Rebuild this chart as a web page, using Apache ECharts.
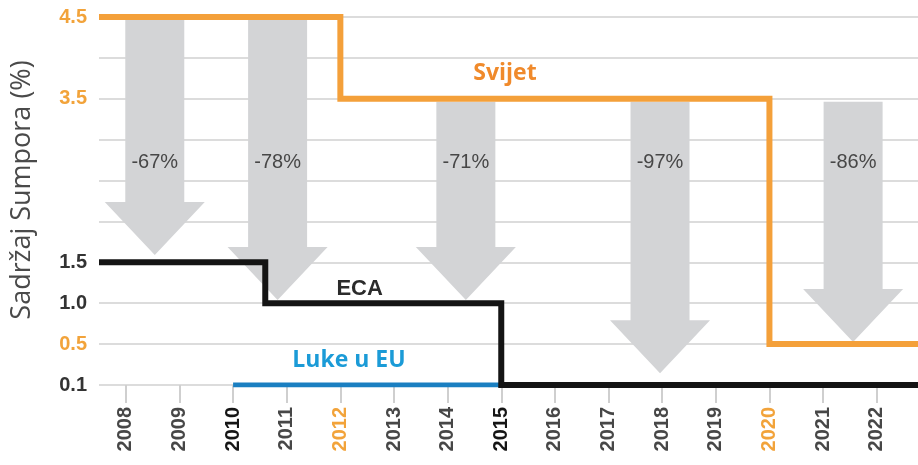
<!DOCTYPE html>
<html>
<head>
<meta charset="utf-8">
<script src="https://cdn.jsdelivr.net/npm/echarts@6/dist/echarts.min.js"></script>
<style>
  html, body { margin: 0; padding: 0; background: #fff; }
  #chart { width: 918px; height: 465px; }
</style>
</head>
<body>
<div id="chart"></div>
<script>
// y levels (evenly spaced rows), only some of them get a label
var yLevels = ['0.1', '0.5', '1.0', '1.5', '2.0', '2.5', '3.0', '3.5', '4.0', '4.5'];
var yShown = ['0.1', '0.5', '1.0', '1.5', '3.5', '4.5'];
var yOrange = ['0.5', '3.5', '4.5'];

var years = [2008, 2009, 2010, 2011, 2012, 2013, 2014, 2015, 2016, 2017, 2018, 2019, 2020, 2021, 2022];
var yearsOrange = [2012, 2020];
var yearsDark = [2010, 2015];

// step lines: value holds from each x until the next one
var svijetX = [2007.5, 2012, 2020, 2022.77];
var svijetY = ['4.5', '3.5', '0.5', '0.5'];
var ecaX = [2007.5, 2010.6, 2015, 2022.77];
var ecaY = ['1.5', '1.0', '0.1', '0.1'];
var lukeX = [2010, 2015];
var lukeY = ['0.1', '0.1'];

// reduction arrows
var arrowX = [2008.54, 2010.83, 2014.34, 2017.96, 2021.56];
var arrowFrom = ['4.5', '4.5', '3.5', '3.5', '3.5'];
var arrowTo = [3.18, 2.08, 2.08, 0.29, 1.05];
var arrowText = ['-67%', '-78%', '-71%', '-97%', '-86%'];

// series names written on the chart
var nameText = ['Svijet', 'ECA', 'Luke u EU'];
var nameX = [2015.07, 2012.36, 2012.16];
var nameLevel = [7.63, 2.35, 0.61];

function zip(xs, ys) {
  return xs.map(function (x, i) { return [x, ys[i]]; });
}

var chart = echarts.init(document.getElementById('chart'));

var arrowData = arrowX.map(function (x, i) {
  return [x, yLevels.indexOf(arrowFrom[i]), arrowTo[i], arrowText[i]];
});
var nameData = nameX.map(function (x, i) {
  return [x, nameLevel[i], nameText[i]];
});
var nameStyles = {
  'Svijet': { fill: '#f08a2b', font: 'bold 23px "Open Sans"' },
  'ECA': { fill: '#2b2b2b', font: 'bold 22px "Liberation Sans"' },
  'Luke u EU': { fill: '#1b9bd7', font: 'bold 23px "Open Sans"' }
};

chart.setOption({
  animation: false,
  backgroundColor: '#fff',
  grid: { left: 99, right: 0, top: 17, bottom: 80, containLabel: false, outerBoundsMode: 'none' },
  xAxis: {
    type: 'value',
    min: 2007.5,
    max: 2022.77,
    splitLine: { show: false },
    axisLine: { show: false },
    axisTick: {
      show: true,
      customValues: years,
      length: 18,
      lineStyle: { color: '#cfcfcf', width: 2 }
    },
    axisLabel: {
      customValues: years,
      rotate: 90,
      margin: 22,
      fontSize: 20,
      fontWeight: 'bold',
      fontFamily: 'Liberation Sans',
      formatter: function (v) { return String(v); },
      color: function (v) {
        v = Number(v);
        if (yearsOrange.indexOf(v) >= 0) return '#f2a33a';
        if (yearsDark.indexOf(v) >= 0) return '#151515';
        return '#474747';
      }
    }
  },
  yAxis: [
    {
      type: 'category',
      data: yLevels,
      boundaryGap: false,
      axisLine: { show: false },
      axisTick: { show: false },
      splitLine: { show: true, lineStyle: { color: '#dcdcdc', width: 2 } },
      axisLabel: {
        margin: 12,
        fontSize: 20,
        fontWeight: 'bold',
        fontFamily: 'Liberation Sans',
        formatter: function (v) { return yShown.indexOf(v) >= 0 ? v : ''; },
        color: function (v) { return yOrange.indexOf(v) >= 0 ? '#f2a33a' : '#333'; }
      },
      name: 'Sadržaj Sumpora (%)',
      nameLocation: 'middle',
      nameRotate: 90,
      nameGap: 63,
      nameTextStyle: {
        fontSize: 27,
        fontFamily: 'Open Sans',
        color: '#4a4a4a',
        padding: [0, 0, 0, 22]
      }
    },
    {
      type: 'value',
      min: 0,
      max: 9,
      show: false
    }
  ],
  series: [
    {
      type: 'custom',
      yAxisIndex: 1,
      z: 1,
      silent: true,
      data: arrowData,
      renderItem: function (params, api) {
        var top = api.coord([api.value(0), api.value(1)]);
        var tip = api.coord([api.value(0), api.value(2)]);
        var mid = api.coord([api.value(0), 5.45]);
        var x = top[0], yTop = top[1] + 3, yTip = tip[1];
        var sw = 29.5, hw = 50, hh = 53, yHead = yTip - hh;
        return {
          type: 'group',
          children: [
            {
              type: 'polygon',
              shape: {
                points: [
                  [x - sw, yTop], [x + sw, yTop], [x + sw, yHead], [x + hw, yHead],
                  [x, yTip], [x - hw, yHead], [x - sw, yHead]
                ]
              },
              style: { fill: '#d3d4d6' }
            },
            {
              type: 'text',
              x: x,
              y: mid[1],
              style: {
                text: api.value(3),
                fill: '#474747',
                font: '20px "Liberation Sans"',
                align: 'center',
                verticalAlign: 'middle'
              }
            }
          ]
        };
      }
    },
    {
      type: 'line',
      name: 'Luke u EU',
      step: 'start',
      symbol: 'none',
      z: 3,
      data: zip(lukeX, lukeY),
      lineStyle: { color: '#1a7fc1', width: 5, join: 'miter', cap: 'butt' }
    },
    {
      type: 'line',
      name: 'Svijet',
      step: 'start',
      symbol: 'none',
      z: 4,
      data: zip(svijetX, svijetY),
      lineStyle: { color: '#f4a03a', width: 6, join: 'miter', cap: 'butt' }
    },
    {
      type: 'line',
      name: 'ECA',
      step: 'start',
      symbol: 'none',
      z: 5,
      data: zip(ecaX, ecaY),
      lineStyle: { color: '#141414', width: 6, join: 'miter', cap: 'butt' }
    },
    {
      type: 'custom',
      yAxisIndex: 1,
      z: 6,
      silent: true,
      data: nameData,
      renderItem: function (params, api) {
        var p = api.coord([api.value(0), api.value(1)]);
        var name = api.value(2);
        var st = nameStyles[name];
        return {
          type: 'text',
          x: p[0],
          y: p[1],
          style: {
            text: name,
            fill: st.fill,
            font: st.font,
            align: 'center',
            verticalAlign: 'middle'
          }
        };
      }
    }
  ]
});
</script>
</body>
</html>
